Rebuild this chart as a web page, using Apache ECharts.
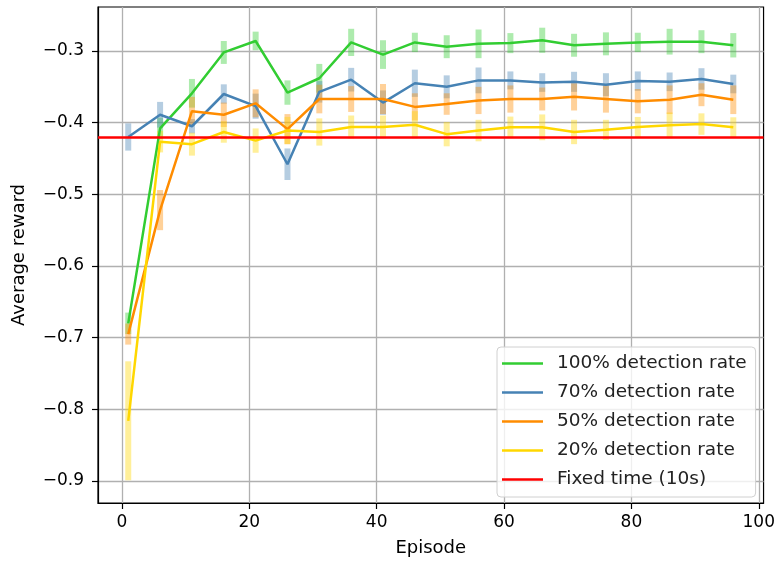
<!DOCTYPE html>
<html>
<head>
<meta charset="utf-8">
<script src="https://cdn.jsdelivr.net/npm/echarts@6/dist/echarts.min.js"></script>
<style>html,body{margin:0;padding:0;background:#fff}#chart{width:778px;height:562px}</style>
</head>
<body>
<div id="chart"></div>
<script>
const episodes = [1, 6, 11, 16, 21, 26, 31, 36, 41, 46, 51, 56, 61, 66, 71, 76, 81, 86, 91, 96];
const green = [-0.680, -0.408, -0.359, -0.302, -0.286, -0.358, -0.338, -0.288, -0.305, -0.288, -0.294, -0.290, -0.289, -0.285, -0.292, -0.290, -0.288, -0.287, -0.287, -0.292];
const greenErr = [0.015, 0.015, 0.020, 0.016, 0.013, 0.017, 0.020, 0.019, 0.020, 0.0135, 0.016, 0.020, 0.014, 0.0175, 0.016, 0.016, 0.0135, 0.018, 0.016, 0.017];
const blue = [-0.420, -0.389, -0.405, -0.360, -0.377, -0.458, -0.357, -0.340, -0.372, -0.345, -0.350, -0.341, -0.341, -0.344, -0.343, -0.347, -0.342, -0.343, -0.339, -0.346];
const blueErr = [0.019, 0.018, 0.010, 0.0135, 0.0175, 0.022, 0.015, 0.0165, 0.017, 0.019, 0.016, 0.018, 0.0125, 0.013, 0.014, 0.016, 0.0135, 0.013, 0.015, 0.013];
const orange = [-0.695, -0.522, -0.384, -0.389, -0.373, -0.409, -0.367, -0.367, -0.367, -0.378, -0.374, -0.369, -0.367, -0.367, -0.364, -0.367, -0.370, -0.368, -0.361, -0.368];
const orangeErr = [0.0147, 0.028, 0.020, 0.017, 0.0195, 0.021, 0.020, 0.018, 0.021, 0.019, 0.015, 0.019, 0.019, 0.016, 0.019, 0.019, 0.017, 0.020, 0.016, 0.020];
const yellow = [-0.816, -0.4265, -0.430, -0.413, -0.425, -0.411, -0.413, -0.406, -0.406, -0.403, -0.416, -0.411, -0.4065, -0.4065, -0.413, -0.410, -0.406, -0.4037, -0.402, -0.4065];
const yellowErr = [0.083, 0.015, 0.016, 0.015, 0.017, 0.019, 0.019, 0.016, 0.016, 0.019, 0.017, 0.015, 0.015, 0.018, 0.017, 0.014, 0.014, 0.018, 0.015, 0.014];
const fixedTime = -0.425;
const xTicks = [0, 20, 40, 60, 80, 100];
const yTicks = [-0.9, -0.8, -0.7, -0.6, -0.5, -0.4, -0.3];
const names = ['100% detection rate', '70% detection rate', '50% detection rate', '20% detection rate', 'Fixed time (10s)'];
const colors = ['#32CD32', '#4682B4', '#FF8C00', '#FFD700', '#FF0000'];

const FONT = 'DejaVu Sans';
const FS = 17;

const seriesVals = [green, blue, orange, yellow];
const seriesErr = [greenErr, blueErr, orangeErr, yellowErr];

function errSeries(i) {
  return {
    name: names[i] + ' err',
    type: 'custom',
    z: 2,
    silent: true,
    data: episodes.map((x, k) => [x, seriesVals[i][k], seriesErr[i][k]]),
    renderItem: function (params, api) {
      const x = api.value(0), y = api.value(1), e = api.value(2);
      const p1 = api.coord([x, y + e]);
      const p2 = api.coord([x, y - e]);
      return {
        type: 'rect',
        shape: { x: p1[0] - 3, y: p1[1], width: 6, height: p2[1] - p1[1] },
        style: { fill: colors[i], opacity: 0.4 }
      };
    }
  };
}

function lineSeries(i) {
  return {
    name: names[i],
    type: 'line',
    z: 3,
    symbol: 'none',
    color: colors[i],
    lineStyle: { color: colors[i], width: 2.5 },
    data: episodes.map((x, k) => [x, seriesVals[i][k]])
  };
}

const series = [];
for (let i = 0; i < 4; i++) series.push(errSeries(i));
for (let i = 0; i < 4; i++) series.push(lineSeries(i));
series.push({
  name: names[4],
  type: 'line',
  z: 4,
  color: colors[4],
  symbol: 'none',
  lineStyle: { color: colors[4], width: 2.5 },
  data: [],
  markLine: {
    silent: true,
    symbol: 'none',
    label: { show: false },
    lineStyle: { color: colors[4], width: 2.5, type: 'solid' },
    data: [{ yAxis: fixedTime }]
  }
});

const chart = echarts.init(document.getElementById('chart'));
chart.setOption({
  animation: false,
  backgroundColor: '#fff',
  textStyle: { fontFamily: FONT },
  grid: { left: 98, right: 13, top: 7, bottom: 59, show: true, borderColor: '#000', borderWidth: 1.2, backgroundColor: 'transparent' },
  xAxis: {
    type: 'value',
    min: -3.75,
    max: 100.75,
    name: 'Episode',
    nameLocation: 'middle',
    nameGap: 36,
    nameTextStyle: { fontFamily: FONT, fontSize: FS + 1, color: '#000' },
    axisLine: { show: true, onZero: false, lineStyle: { color: '#000', width: 1.2 } },
    axisTick: { show: true, length: 6, lineStyle: { color: '#000', width: 1.2 }, customValues: xTicks },
    axisLabel: { customValues: xTicks, margin: 11, fontFamily: FONT, fontSize: FS, color: '#000',
      formatter: v => String(v).replace('-', '\u2212') },
    splitLine: { show: true, lineStyle: { color: '#b0b0b0', width: 1.3 } }
  },
  yAxis: {
    type: 'value',
    min: -0.9307,
    max: -0.2386,
    name: 'Average reward',
    nameLocation: 'middle',
    nameGap: 70,
    nameTextStyle: { fontFamily: FONT, fontSize: FS + 1, color: '#000' },
    axisLine: { show: true, onZero: false, lineStyle: { color: '#000', width: 1.2 } },
    axisTick: { show: true, length: 6, lineStyle: { color: '#000', width: 1.2 }, customValues: yTicks },
    axisLabel: { customValues: yTicks, margin: 14, fontFamily: FONT, fontSize: FS, color: '#000',
      formatter: v => v.toFixed(1).replace('-', '\u2212') },
    splitLine: { show: true, lineStyle: { color: '#b0b0b0', width: 1.3 } }
  },
  legend: {
    data: names,
    orient: 'vertical',
    left: 497,
    top: 347,
    icon: 'rect',
    itemWidth: 41,
    itemHeight: 2.5,
    itemGap: 10,
    padding: [7, 9, 8, 5],
    backgroundColor: 'rgba(255,255,255,0.8)',
    borderColor: '#d0d0d0',
    borderWidth: 1,
    borderRadius: 4,
    selectedMode: false,
    textStyle: { fontFamily: FONT, fontSize: 18.5, color: '#222', padding: [0, 0, 0, 9] }
  },
  series: series
});
</script>
</body>
</html>
